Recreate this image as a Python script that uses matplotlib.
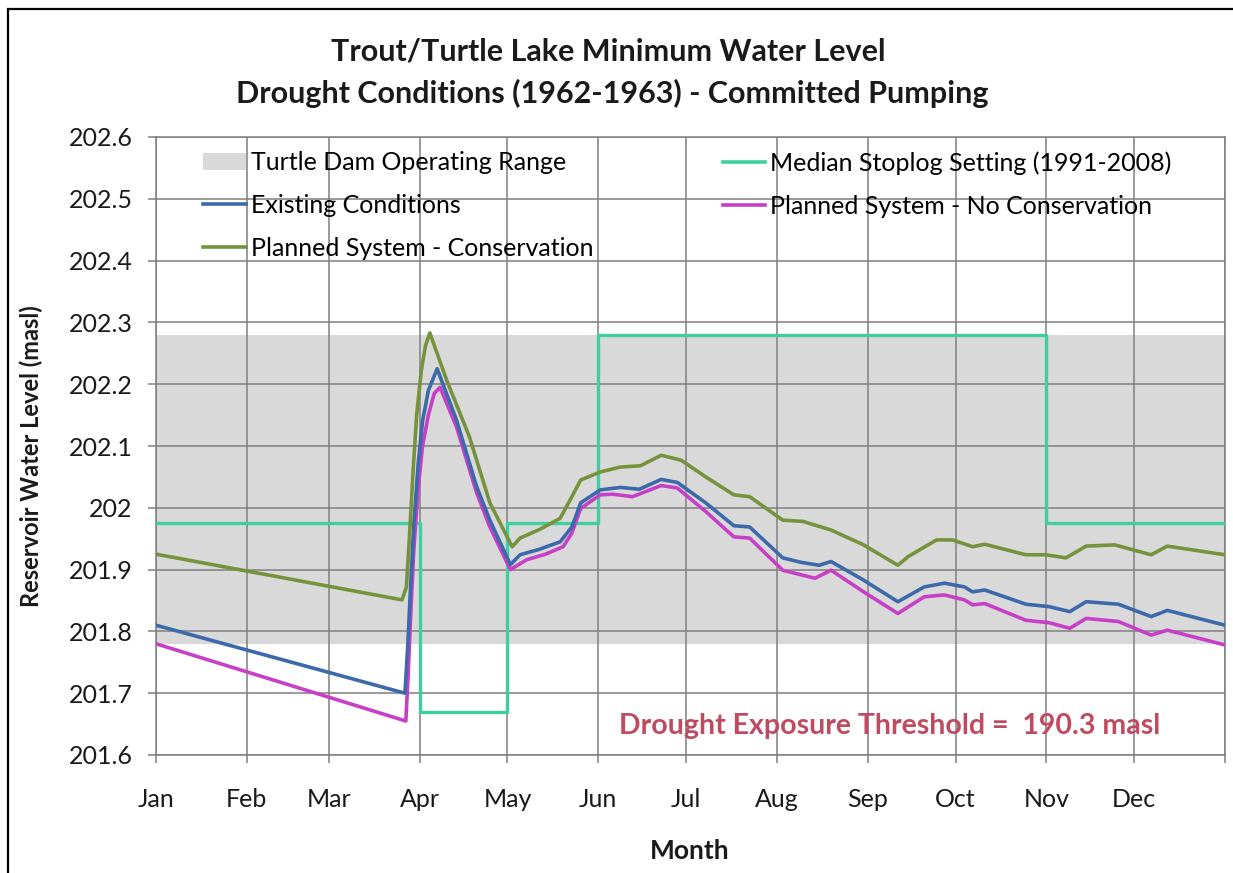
import matplotlib.pyplot as plt
from matplotlib.patches import Patch, Rectangle
from matplotlib.lines import Line2D

plt.rcParams['font.family'] = ['Lato', 'DejaVu Sans']

# month starts (day of year) and labels
month_days = [0, 31, 59, 90, 120, 151, 181, 212, 243, 273, 304, 334, 365]
month_labels = ['Jan', 'Feb', 'Mar', 'Apr', 'May', 'Jun', 'Jul', 'Aug', 'Sep', 'Oct', 'Nov', 'Dec']

# Turtle Dam operating range (masl)
range_low = 201.78
range_high = 202.28

# median stoplog setting, step changes
stoplog_days = [0, 90, 120, 151, 304, 365]
stoplog_level = [201.975, 201.67, 201.975, 202.28, 201.975, 201.975]

# existing conditions
exist_days = [0, 85, 86, 87, 88, 89.5, 91, 93, 96, 102.6, 109.5, 114, 121, 124.3, 131, 138,
              142, 145, 151.7, 158.6, 165, 172.5, 178, 187.7, 197.3, 202.7, 214, 220, 226.4,
              230.5, 241.6, 253.3, 262.3, 269.2, 276, 278.8, 283, 297, 305, 312, 317.6,
              328.6, 339.8, 345.3, 365]
exist_level = [201.810, 201.700, 201.780, 201.880, 201.970, 202.070, 202.140, 202.190, 202.225,
               202.142, 202.034, 201.980, 201.908, 201.924, 201.933, 201.945, 201.969, 202.008,
               202.029, 202.033, 202.030, 202.046, 202.041, 202.008, 201.971, 201.969, 201.919,
               201.912, 201.907, 201.913, 201.883, 201.848, 201.872, 201.878, 201.872, 201.864,
               201.867, 201.844, 201.840, 201.832, 201.848, 201.844, 201.824, 201.834, 201.810]

# planned system - no conservation
nocons_days = [0, 85.3, 86, 87, 88, 89.5, 91, 93, 95, 97, 102.6, 109.5, 114, 121, 126.6, 133,
               139, 142, 145, 151.7, 156, 162.7, 172.5, 178, 187.7, 197.3, 202.7, 214, 225,
               230.5, 241.6, 253.3, 262.3, 269.2, 276, 278.8, 283, 297, 305, 312, 317.6, 328.6,
               339.8, 345.3, 365]
nocons_level = [201.780, 201.655, 201.720, 201.830, 201.930, 202.030, 202.100, 202.150, 202.185,
                202.195, 202.131, 202.024, 201.969, 201.900, 201.916, 201.925, 201.937, 201.959,
                201.999, 202.021, 202.022, 202.018, 202.036, 202.032, 201.994, 201.953, 201.951,
                201.899, 201.886, 201.899, 201.864, 201.829, 201.856, 201.859, 201.851, 201.843,
                201.845, 201.818, 201.814, 201.805, 201.821, 201.816, 201.794, 201.802, 201.778]

# planned system - conservation
cons_days = [0, 84, 85.5, 86.5, 87.8, 89, 90.6, 92, 93.5, 99.2, 107, 114, 121.6, 124.3, 131,
             138, 142, 145, 151.7, 158.6, 165.4, 172.5, 179.3, 187.7, 197.3, 202.7, 214, 220.9,
             230.5, 241.6, 253.3, 256.8, 266.5, 272, 278.8, 283, 297, 303.8, 310.7, 317.6,
             327.3, 339.8, 345.3, 365]
cons_level = [201.925, 201.851, 201.872, 201.950, 202.061, 202.150, 202.223, 202.262, 202.283,
              202.207, 202.115, 202.008, 201.937, 201.951, 201.965, 201.983, 202.018, 202.045,
              202.058, 202.066, 202.068, 202.085, 202.077, 202.050, 202.021, 202.018, 201.980,
              201.978, 201.964, 201.940, 201.907, 201.921, 201.948, 201.948, 201.937, 201.941,
              201.924, 201.924, 201.919, 201.938, 201.940, 201.924, 201.938, 201.924]

c_range = '#d9d9d9'
c_stop = '#3ecfa0'
c_exist = '#3b69aa'
c_nocons = '#c73fc7'
c_cons = '#76923c'
c_grid = '#7f7f7f'
c_text = '#1a1a1a'

fig = plt.figure(figsize=(12.33, 8.73), dpi=100)
ax = fig.add_axes([156 / 1233, 1 - 755 / 873, 1069 / 1233, 618 / 873])

ax.axhspan(range_low, range_high, color=c_range, lw=0, zorder=1)
ax.plot(stoplog_days, stoplog_level, drawstyle='steps-post', color=c_stop, lw=2.4, zorder=3)
ax.plot(exist_days, exist_level, color=c_exist, lw=2.6, zorder=4)
ax.plot(nocons_days, nocons_level, color=c_nocons, lw=2.6, zorder=3.5)
ax.plot(cons_days, cons_level, color=c_cons, lw=2.6, zorder=4.5)

ax.set_xlim(0, 365)
ax.set_ylim(201.6, 202.6)
ax.set_xticks(month_days)
ax.set_xticklabels(month_labels + [''])
ax.set_yticks([201.6, 201.7, 201.8, 201.9, 202.0, 202.1, 202.2, 202.3, 202.4, 202.5, 202.6])
ax.set_yticklabels(['201.6', '201.7', '201.8', '201.9', '202', '202.1', '202.2', '202.3',
                    '202.4', '202.5', '202.6'])
ax.grid(True, color=c_grid, lw=1.1, zorder=2)
for s in ax.spines.values():
    s.set_color(c_grid)
    s.set_linewidth(1.1)
ax.tick_params(axis='both', colors=c_grid, length=6, width=1.1, labelcolor=c_text,
               labelsize=18)
ax.tick_params(axis='x', pad=18)
ax.tick_params(axis='y', pad=11)

# legend in two separate columns
h_range = Patch(facecolor=c_range, edgecolor='none')
h_exist = Line2D([], [], color=c_exist, lw=2.6)
h_cons = Line2D([], [], color=c_cons, lw=2.6)
h_stop = Line2D([], [], color=c_stop, lw=2.6)
h_nocons = Line2D([], [], color=c_nocons, lw=2.6)
leg_kw = dict(frameon=False, fontsize=18, loc='upper left', borderpad=0, borderaxespad=0,
              handlelength=1.7, handletextpad=0.2, labelspacing=0.8)
leg1 = ax.legend([h_range, h_exist, h_cons],
                 ['Turtle Dam Operating Range', 'Existing Conditions',
                  'Planned System - Conservation'],
                 bbox_to_anchor=(0.044, 0.977), **leg_kw)
ax.add_artist(leg1)
ax.legend([h_stop, h_nocons],
          ['Median Stoplog Setting (1991-2008)', 'Planned System - No Conservation'],
          bbox_to_anchor=(0.530, 0.977), **leg_kw)

ax.text(0.433, 0.047, 'Drought Exposure Threshold =  190.3 masl', transform=ax.transAxes,
        ha='left', va='center', fontsize=20.5, fontweight='bold', color='#c04a60')

fig.text(608 / 1233, 1 - 52 / 873, 'Trout/Turtle Lake Minimum Water Level', ha='center',
         va='center', fontsize=22, fontweight='bold', color=c_text)
fig.text(612 / 1233, 1 - 93 / 873, 'Drought Conditions (1962-1963) - Committed Pumping',
         ha='center', va='center', fontsize=22, fontweight='bold', color=c_text)
fig.text(31 / 1233, 1 - 456 / 873, 'Reservoir Water Level (masl)', rotation=90, ha='center',
         va='center', fontsize=17, fontweight='bold', color=c_text)
fig.text(690 / 1233, 1 - 851 / 873, 'Month', ha='center', va='center', fontsize=19,
         fontweight='bold', color=c_text)

# outer frame around the chart
fig.patches.append(Rectangle((8 / 1233, -0.1), 1.2, 1.1 - 9 / 873, transform=fig.transFigure,
                             fill=False, edgecolor='black', lw=1.6))

fig.savefig('out.png', dpi=100)
